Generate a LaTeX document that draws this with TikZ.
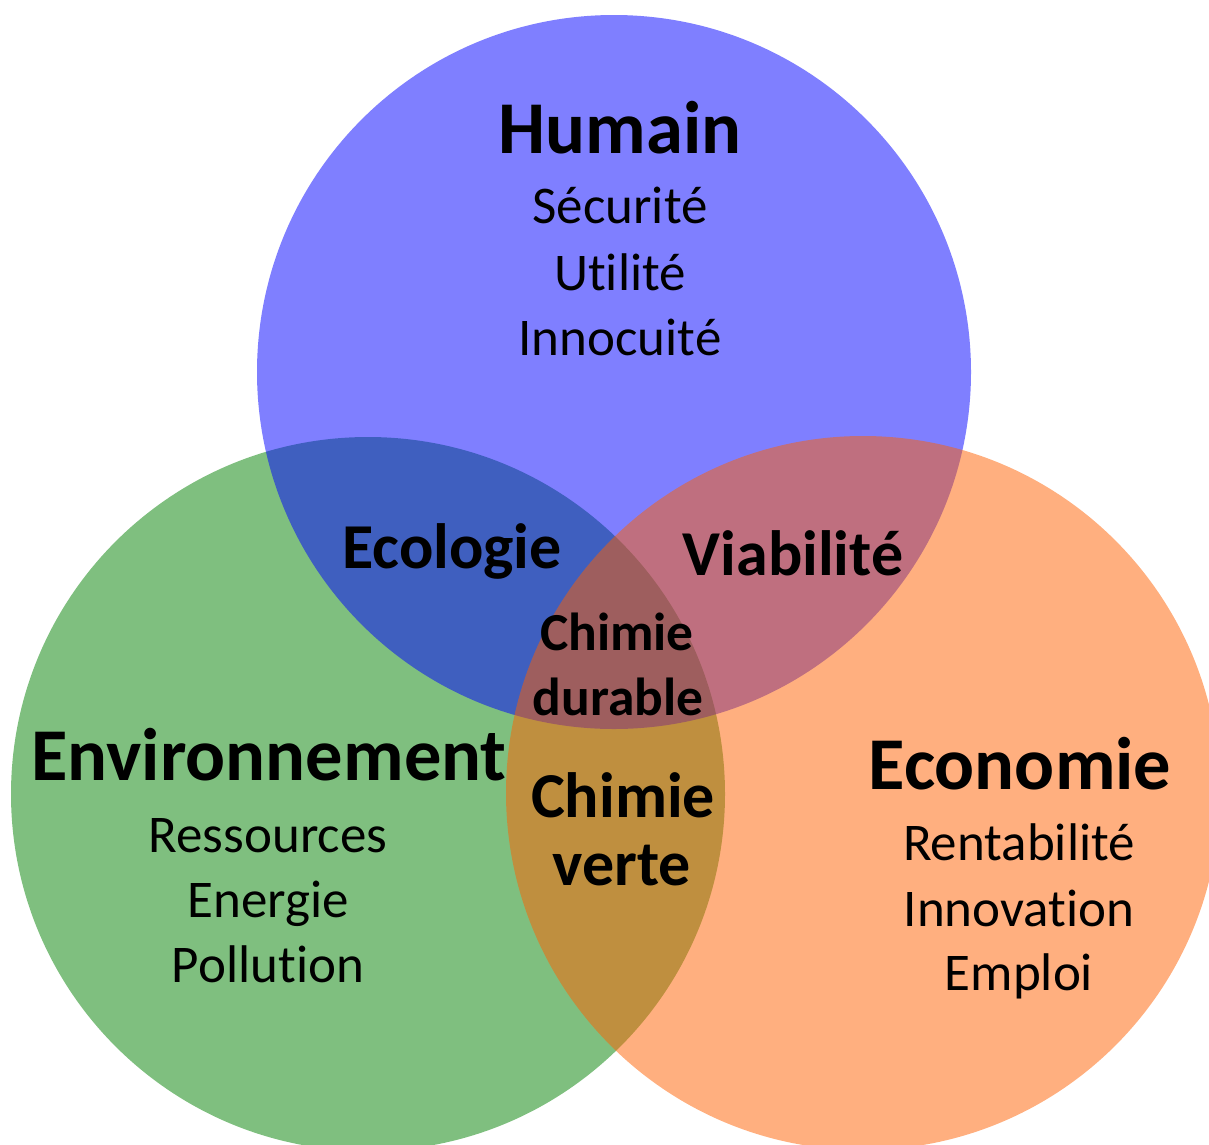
\documentclass[tikz,border=0pt]{standalone}
\usepackage{fontspec}
\setmainfont[Ligatures=NoCommon]{Carlito}
\definecolor{envgreen}{RGB}{0,128,0}
\definecolor{humblue}{RGB}{0,0,255}
\definecolor{ecoorange}{RGB}{255,96,0}
\begin{document}
\begin{tikzpicture}[x=1pt,y=-1pt,
    disc/.style={fill opacity=0.5},
    title/.style={anchor=base,inner sep=0pt,font=\fontsize{74.5}{80}\selectfont\bfseries},
    item/.style={anchor=base,inner sep=0pt,font=\fontsize{53}{60}\selectfont},
    inter/.style={anchor=base,inner sep=0pt,font=\fontsize{64}{68}\selectfont\bfseries},
    core/.style={anchor=base,inner sep=0pt,font=\fontsize{53.5}{60}\selectfont\bfseries}]
    \useasboundingbox (0,0) rectangle (1209,1144);
    % The three circles (green below, orange on top)
    \fill[envgreen,disc] (368,794) circle[radius=357pt];
    \fill[humblue,disc] (614,372) circle[radius=357pt];
    \fill[ecoorange,disc] (863,793) circle[radius=357pt];
    % Humain
    \node[title] (humain) at (620,153) {Humain};
    \foreach \txt/\y [count=\i] in {Sécurité/223,Utilité/290,Innocuité/355}
        \node[item] (humain-\i) at (620,\y) {\txt};
    % Environnement
    \node[title] (env) at (269,780) {Environnement};
    \foreach \txt/\y [count=\i] in {Ressources/852,Energie/917,Pollution/982}
        \node[item] (env-\i) at (268,\y) {\txt};
    % Economie
    \node[title] (eco) at (1020,789) {Economie};
    \foreach \txt/\y [count=\i] in {Rentabilité/860,Innovation/926,Emploi/990}
        \node[item] (eco-\i) at (1019,\y) {\txt};
    % Intersections
    \node[inter] (ecologie) at (452,568) {Ecologie};
    \node[inter] (viabilite) at (793,575) {Viabilité};
    \node[core] (durable-1) at (617,650) {Chimie};
    \node[core] (durable-2) at (618,715) {durable};
    \node[inter] (verte-1) at (623,817) {Chimie};
    \node[inter] (verte-2) at (622,885) {verte};
\end{tikzpicture}
\end{document}
